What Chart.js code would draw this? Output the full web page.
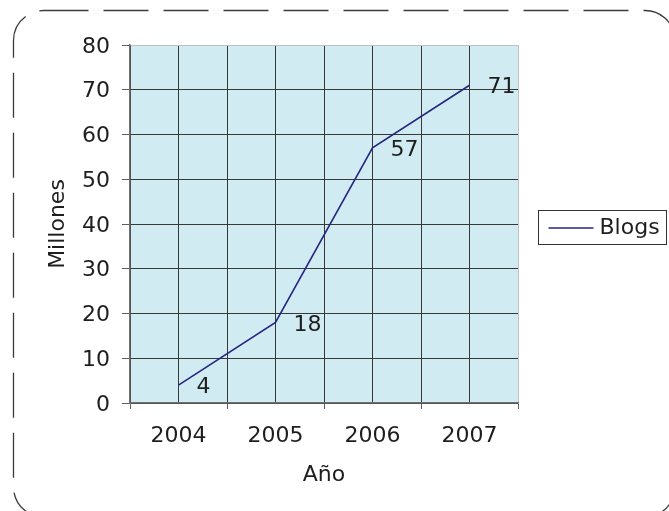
<!DOCTYPE html>
<html>
<head>
<meta charset="utf-8">
<script src="https://cdn.jsdelivr.net/npm/chart.js@4/dist/chart.umd.min.js"></script>
<style>
  html, body { margin: 0; padding: 0; background: #fff; }
  #wrap { width: 669px; height: 511px; }
</style>
</head>
<body>
<div id="wrap"><canvas id="c" width="669" height="511"></canvas></div>
<script>
// Blogs worldwide, millions per year
const years = ['2004', '2005', '2006', '2007'];
const blogs = [4, 18, 57, 71];
const yTickValues = [0, 10, 20, 30, 40, 50, 60, 70, 80];

const seriesName = 'Blogs';
const xTitle = 'Año';
const yTitle = 'Millones';

const FONT = 'DejaVu Sans, Verdana, sans-serif';
const TEXT = '#1e1e1e';
const LINE = '#26267f';
const GRID = '#383838';

// white page, tinted plot area and dashed rounded outline
const chartFrame = {
  id: 'chartFrame',
  beforeDraw(chart) {
    const { ctx, chartArea: a } = chart;
    ctx.save();
    ctx.fillStyle = '#ffffff';
    ctx.fillRect(0, 0, chart.width, chart.height);
    ctx.fillStyle = '#d0ecf2';
    ctx.fillRect(a.left, a.top, a.right - a.left, a.bottom - a.top);
    ctx.strokeStyle = '#3a3a3a';
    ctx.lineWidth = 1.3;
    ctx.setLineDash([45, 15]);
    ctx.beginPath();
    ctx.roundRect(13.5, 10.5, 661.5, 506.5, 30);
    ctx.stroke();
    ctx.restore();
  }
};

// value labels to the right of each point
const pointLabels = {
  id: 'pointLabels',
  afterDatasetsDraw(chart) {
    const { ctx } = chart;
    const meta = chart.getDatasetMeta(0);
    ctx.save();
    ctx.font = '22px ' + FONT;
    ctx.fillStyle = TEXT;
    ctx.textAlign = 'left';
    ctx.textBaseline = 'middle';
    meta.data.forEach((pt, i) => {
      ctx.fillText(String(blogs[i]), pt.x + 18, pt.y + 2.5);
    });
    ctx.restore();
  }
};

// boxed legend on the right of the plot
const boxLegend = {
  id: 'boxLegend',
  afterDraw(chart) {
    const { ctx, chartArea: a } = chart;
    const ds = chart.data.datasets[0];
    const x = a.right + 20.5;
    const cy = (a.top + a.bottom) / 2 + 3;
    ctx.save();
    ctx.strokeStyle = '#333333';
    ctx.lineWidth = 1;
    ctx.strokeRect(x, Math.round(cy - 17) + 0.5, 128, 34);
    ctx.strokeStyle = ds.borderColor;
    ctx.lineWidth = 1.5;
    ctx.beginPath();
    ctx.moveTo(x + 10, cy + 1);
    ctx.lineTo(x + 55, cy + 1);
    ctx.stroke();
    ctx.font = '22px ' + FONT;
    ctx.fillStyle = TEXT;
    ctx.textAlign = 'left';
    ctx.textBaseline = 'middle';
    ctx.fillText(ds.label, x + 61, cy + 1);
    ctx.restore();
  }
};

new Chart(document.getElementById('c'), {
  type: 'line',
  data: {
    datasets: [{
      label: seriesName,
      data: years.map((y, i) => ({ x: i, y: blogs[i] })),
      borderColor: LINE,
      backgroundColor: LINE,
      borderWidth: 1.6,
      pointRadius: 0,
      tension: 0,
      fill: false
    }]
  },
  options: {
    responsive: false,
    animation: false,
    devicePixelRatio: 1,
    layout: { padding: { left: 0, top: 45, right: 151, bottom: 0 } },
    plugins: {
      legend: { display: false },
      tooltip: { enabled: false }
    },
    scales: {
      x: {
        type: 'linear',
        min: -0.5,
        max: years.length - 0.5,
        afterFit(scale) { scale.height = 108; },
        ticks: {
          stepSize: 0.5,
          autoSkip: false,
          maxRotation: 0,
          minRotation: 0,
          padding: 14,
          color: TEXT,
          font: { family: FONT, size: 22 },
          callback: (v) => Number.isInteger(v) ? years[v] : ''
        },
        grid: {
          color: (c) => (c.tick && c.tick.value === years.length - 0.5) ? '#c0c0c0' : GRID,
          lineWidth: 1,
          tickLength: 6,
          tickColor: (c) => (c.tick && Number.isInteger(c.tick.value)) ? 'rgba(0,0,0,0)' : '#606060'
        },
        border: { color: '#707070', width: 1.5 },
        title: {
          display: true,
          text: xTitle,
          color: TEXT,
          font: { family: FONT, size: 22 },
          padding: { top: 0, bottom: 23 }
        }
      },
      y: {
        min: yTickValues[0],
        max: yTickValues[yTickValues.length - 1],
        afterFit(scale) { scale.width = 130; },
        afterBuildTicks(scale) { scale.ticks = yTickValues.map(v => ({ value: v })); },
        ticks: {
          padding: 12,
          labelOffset: 2,
          color: TEXT,
          font: { family: FONT, size: 22 }
        },
        grid: {
          color: (c) => (c.tick && c.tick.value === yTickValues[yTickValues.length - 1]) ? '#c0c0c0' : GRID,
          lineWidth: 1,
          tickLength: 8,
          tickColor: '#606060'
        },
        border: { color: '#707070', width: 1.5 },
        title: {
          display: true,
          text: yTitle,
          color: TEXT,
          font: { family: FONT, size: 22 },
          padding: { top: 45, bottom: 0 }
        }
      }
    }
  },
  plugins: [chartFrame, pointLabels, boxLegend]
});
</script>
</body>
</html>
